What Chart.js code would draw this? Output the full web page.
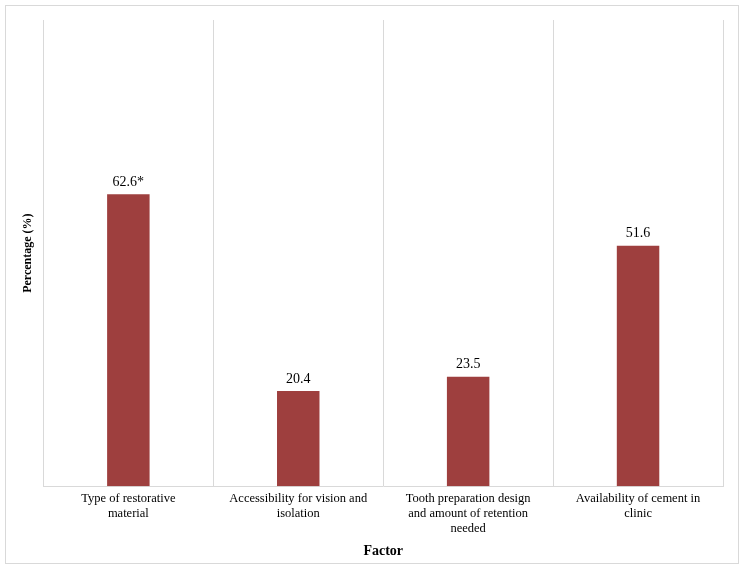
<!DOCTYPE html>
<html><head><meta charset="utf-8">
<script src="https://cdn.jsdelivr.net/npm/chart.js@4"></script>
<style>
html,body{margin:0;padding:0;background:#fff;}
#box{position:absolute;left:5px;top:5px;width:734px;height:559px;border:1px solid #d9d9d9;box-sizing:border-box;}
</style></head>
<body>
<div id="box"><canvas id="c"></canvas></div>
<script>
var factors = [
  ['Type of restorative', 'material'],
  ['Accessibility for vision and', 'isolation'],
  ['Tooth preparation design', 'and amount of retention', 'needed'],
  ['Availability of cement in', 'clinic']
];
var percents = [62.6, 20.4, 23.5, 51.6];
var valueLabels = ['62.6*', '20.4', '23.5', '51.6'];

var barLabels = {
  id: 'barLabels',
  afterDatasetsDraw: function(chart){
    var ctx = chart.ctx, meta = chart.getDatasetMeta(0);
    ctx.save();
    ctx.font = '14px "Liberation Serif"';
    ctx.fillStyle = '#000';
    ctx.textAlign = 'center';
    ctx.textBaseline = 'bottom';
    meta.data.forEach(function(bar, i){
      ctx.fillText(valueLabels[i], bar.x, bar.y - 5);
    });
    ctx.restore();
  }
};

new Chart(document.getElementById('c'), {
  type: 'bar',
  data: {
    labels: factors,
    datasets: [{ data: percents, backgroundColor: '#9e3f3e', categoryPercentage: 1, barPercentage: 0.25 }]
  },
  options: {
    responsive: true,
    maintainAspectRatio: false,
    animation: false,
    layout: { padding: { left: 15, right: 15, top: 14, bottom: 1 } },
    plugins: { legend: { display: false }, tooltip: { enabled: false } },
    scales: {
      x: {
        grid: { offset: true, color: '#d9d9d9', drawTicks: false },
        border: { color: '#d9d9d9' },
        ticks: { color: '#000', maxRotation: 0, autoSkip: false, padding: 5, font: { family: 'Liberation Serif', size: 12.5 } },
        title: { display: true, text: 'Factor', color: '#000', font: { family: 'Liberation Serif', size: 14, weight: 'bold' }, padding: { top: 2, bottom: 2 } }
      },
      y: {
        min: 0, max: 100,
        grid: { display: false },
        border: { display: false },
        ticks: { display: false },
        title: { display: true, text: 'Percentage (%)', color: '#000', font: { family: 'Liberation Serif', size: 12, weight: 'bold' }, padding: { top: 0, bottom: 0 } }
      }
    }
  },
  plugins: [barLabels]
});
</script>
</body></html>
